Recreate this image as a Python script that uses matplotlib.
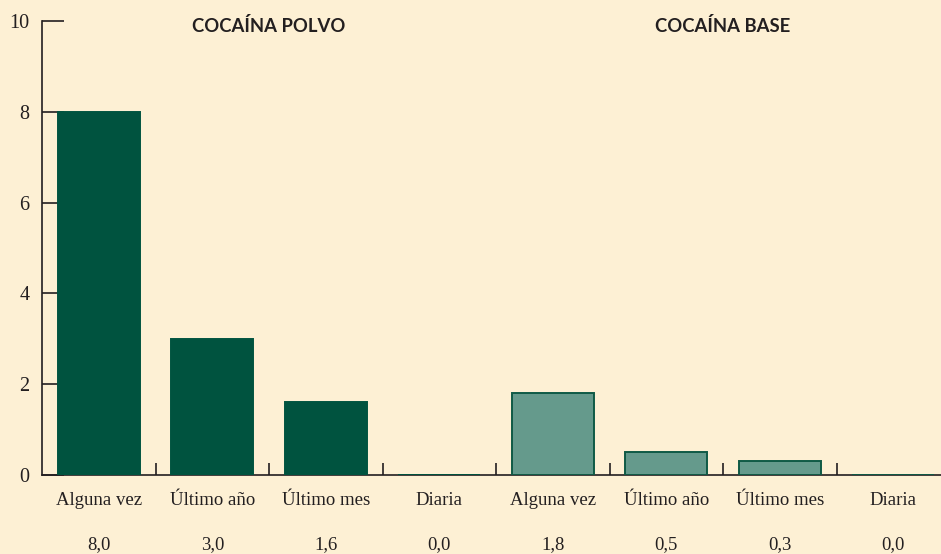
import matplotlib.pyplot as plt
import numpy as np

# Data
categories = ['Alguna vez', 'Último año', 'Último mes', 'Diaria',
              'Alguna vez', 'Último año', 'Último mes', 'Diaria']
polvo_values = [8.0, 3.0, 1.6, 0.0]
base_values = [1.8, 0.5, 0.3, 0.0]
value_labels = ['8,0', '3,0', '1,6', '0,0', '1,8', '0,5', '0,3', '0,0']
group_titles = ['COCAÍNA POLVO', 'COCAÍNA BASE']

bg = '#FDF0D4'
dark_green = '#00533F'
light_green = '#659A8C'
edge_green = '#0F5A46'
ink = '#231F20'

fig = plt.figure(figsize=(9.41, 5.54), dpi=100, facecolor=bg)
ax = fig.add_axes([42 / 941, 79 / 554, 908 / 941, 454 / 554])
ax.set_facecolor(bg)

x_polvo = np.arange(len(polvo_values))
x_base = np.arange(len(base_values)) + len(polvo_values)
ax.bar(x_polvo, polvo_values, width=0.72, color=dark_green,
       edgecolor=dark_green, linewidth=1.4, zorder=3)
ax.bar(x_base, base_values, width=0.72, color=light_green,
       edgecolor=edge_green, linewidth=1.4, zorder=3)

ax.set_xlim(-0.5, len(categories) - 0.5)
ax.set_ylim(0, 10)

# Spines
for side in ['top', 'right']:
    ax.spines[side].set_visible(False)
for side in ['left', 'bottom']:
    ax.spines[side].set_color(ink)
    ax.spines[side].set_linewidth(1.2)

serif = 'Liberation Serif'

# Y axis
ax.set_yticks([0, 2, 4, 6, 8, 10])
ax.set_yticklabels(['0', '2', '4', '6', '8', '10'], fontfamily=serif,
                   fontsize=14.5, color=ink)
ax.tick_params(axis='y', direction='in', length=16, width=1.2, color=ink,
               pad=9)

# X axis: category labels at centers, separator marks between slots
ax.set_xticks(np.arange(len(categories)))
ax.set_xticklabels(categories, fontfamily=serif, fontsize=13.5, color=ink)
ax.tick_params(axis='x', which='major', length=0, pad=12)
ax.set_xticks(np.arange(len(categories) - 1) + 0.5, minor=True)
ax.tick_params(axis='x', which='minor', direction='in', length=9, width=1.2,
               color=ink)

for i, lab in enumerate(value_labels):
    ax.annotate(lab, xy=(i, 0), xycoords='data', xytext=(0, -50),
                textcoords='offset points', ha='center', va='center',
                fontfamily=serif, fontsize=13.5, color=ink,
                annotation_clip=False)

# Group titles
for pos, title in zip([1.5, 5.5], group_titles):
    ax.text(pos, 9.9, title, ha='center', va='center', fontfamily='Lato',
            fontweight='bold', fontsize=13.3, color=ink)

fig.savefig('out.png', dpi=100, facecolor=bg)
